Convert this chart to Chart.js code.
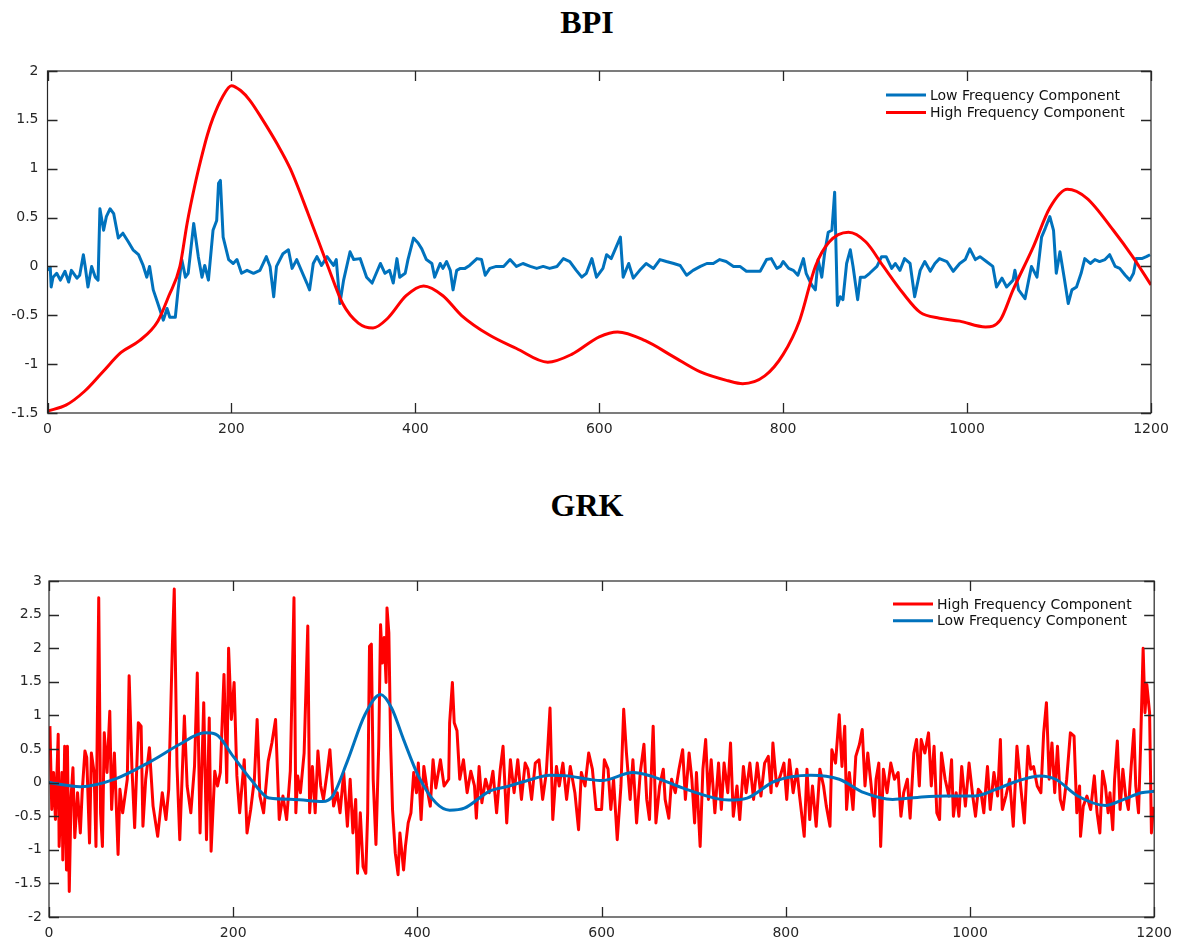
<!DOCTYPE html>
<html>
<head>
<meta charset="utf-8">
<script src="https://cdn.jsdelivr.net/npm/chart.js@4.4.1/dist/chart.umd.min.js"></script>
<style>
  html, body { margin: 0; padding: 0; background: #fff; }
  #wrap { position: relative; width: 1180px; height: 941px; }
  .title {
    position: absolute; left: 0; width: 1174px; text-align: center;
    font-family: "Liberation Serif", "Times New Roman", serif;
    font-weight: bold; font-size: 32px; line-height: 36px; color: #000;
  }
  canvas { position: absolute; left: 0; }
</style>
</head>
<body>
<div id="wrap">
  <div class="title" style="top:4px">BPI</div>
  <canvas id="bpiChart" style="top:0" width="1180" height="460"></canvas>
  <div class="title" style="top:487px">GRK</div>
  <canvas id="grkChart" style="top:460px" width="1180" height="481"></canvas>
</div>
<script>
// ---- BPI: low frequency component (noisy) ----
const bpiLowX = [0,3,4,6,10,14,19,23,26,32,35,39,41,44,48,52,55,57,61,64,68,72,77,82,88,93,99,104,108,111,
  115,120,126,130,133,139,142,146,150,153,159,164,168,171,175,180,184,186,188,191,197,202,206,211,217,224,231,238,242,246,
  249,256,262,266,271,276,282,285,289,293,298,304,311,314,318,322,329,333,340,347,353,362,367,372,
  376,380,383,389,392,398,403,407,412,418,421,427,430,434,438,441,445,449,454,459,467,472,476,481,488,496,503,510,517,525,
  532,539,546,554,561,568,575,581,586,592,597,604,608,613,623,626,632,637,644,651,659,666,673,681,688,695,702,710,717,724,
  731,738,746,753,760,767,775,782,787,793,
  797,800,806,811,816,822,825,831,835,838,842,845,849,853,856,859,862,865,869,873,876,881,884,889,894,902,907,912,918,922,
  927,932,938,943,949,954,960,965,970,978,985,992,998,1003,1009,1014,1021,1028,1032,1038,1043,1050,1052,1056,1063,1067,1070,1076,1081,1085,
  1090,1094,1097,1101,1106,1110,1114,1119,1124,1128,1134,1139,1144,1150,1155,1161,1166,1172,1177,1181,1184,1190,1195,1199];
const bpiLowY = [-0.04,-0.01,-0.21,-0.11,-0.07,-0.14,-0.05,-0.16,-0.04,-0.12,-0.09,0.12,0.0,-0.21,0.0,-0.11,-0.14,0.59,0.37,0.51,
  0.59,0.54,0.29,0.34,0.25,0.17,0.12,0.01,-0.11,0.0,-0.24,-0.38,-0.55,-0.43,-0.52,-0.52,-0.24,0.07,-0.11,-0.07,
  0.44,0.1,-0.11,0.01,-0.14,0.37,0.47,0.85,0.88,0.3,0.07,0.03,0.07,-0.07,-0.04,-0.07,-0.04,0.1,0.0,-0.31,
  0.0,0.13,0.17,-0.02,0.07,-0.04,-0.17,-0.24,0.03,0.1,0.01,0.1,0.01,0.07,-0.38,-0.14,0.15,0.07,0.08,-0.11,
  -0.17,0.03,-0.07,-0.04,
  -0.17,0.08,-0.11,-0.07,0.07,0.29,0.24,0.18,0.07,0.03,-0.11,0.03,-0.02,0.05,-0.04,-0.24,-0.04,-0.02,-0.02,0.01,
  0.08,0.07,-0.09,-0.02,0.0,0.0,0.07,0.0,0.03,0.0,-0.02,0.0,-0.02,0.0,0.08,0.05,-0.04,-0.11,-0.07,0.08,
  -0.11,-0.02,0.12,0.08,0.3,-0.11,0.03,-0.12,-0.04,0.03,-0.02,0.07,0.05,0.03,0.01,-0.09,-0.04,0.0,0.03,0.03,
  0.07,0.05,0.0,0.0,-0.05,-0.05,-0.05,0.07,0.08,-0.02,
  0.0,0.05,-0.02,-0.04,-0.09,0.08,-0.07,-0.19,-0.24,0.07,-0.11,0.13,0.35,0.37,0.76,-0.4,-0.31,-0.34,0.03,0.17,
  0.0,-0.34,-0.11,-0.11,-0.07,0.0,0.1,0.1,-0.02,0.03,-0.04,0.08,0.03,-0.31,-0.04,0.05,-0.05,0.03,0.08,0.05,
  -0.05,0.03,0.07,0.18,0.07,0.1,0.05,0.0,-0.21,-0.12,-0.21,-0.14,-0.04,-0.24,-0.33,-0.14,0.0,-0.11,0.3,0.39,
  0.51,0.37,-0.07,0.15,-0.14,-0.38,-0.24,-0.21,-0.07,0.08,0.03,0.07,0.05,0.07,0.12,0.0,-0.02,-0.09,-0.14,-0.07,
  0.08,0.08,0.1,0.12];

// ---- BPI: high frequency component (smooth) ----
const bpiHighX = [0,20,40,60,80,100,120,132,144,152,160,167,174,180,190,200,210,220,234,250,264,283,305,321,338,354,370,390,409,430,
  450,480,510,544,570,600,620,650,680,710,740,756,780,800,818,835,850,871,890,909,930,949,970,992,1020,1036,1050,1072,1090,1109,
  1130,1159,1180,1200];
const bpiHighY = [-1.48,-1.42,-1.28,-1.08,-0.88,-0.76,-0.56,-0.3,0.0,0.45,0.82,1.1,1.35,1.52,1.73,1.85,1.8,1.7,1.5,1.25,
  1.0,0.55,0.0,-0.38,-0.58,-0.63,-0.53,-0.3,-0.2,-0.3,-0.5,-0.7,-0.84,-0.98,-0.9,-0.72,-0.67,-0.76,-0.92,-1.08,
  -1.17,-1.2,-1.12,-0.9,-0.55,0.0,0.25,0.35,0.25,0.0,-0.27,-0.47,-0.53,-0.56,-0.62,-0.55,-0.24,0.2,0.6,0.79,
  0.7,0.37,0.1,-0.19];

// ---- GRK: high frequency component (noisy) ----
const grkHighX = [1,3,5,7,10,11,14,15,17,19,20,22,24,26,28,31,34,36,39,41,44,46,49,51,54,56,58,60,63,66,
  68,71,75,77,80,85,87,90,93,97,100,102,105,109,113,118,123,127,130,134,136,139,142,147,150,154,158,161,164,168,
  171,174,176,180,183,186,190,193,195,198,201,204,207,212,215,219,223,226,229,233,238,242,246,250,254,258,262,266,268,270,
  273,277,281,283,286,289,292,295,298,302,305,309,313,316,320,324,327,330,333,335,338,341,344,346,348,350,352,355,358,360,
  362,364,366,367,369,371,373,376,379,381,385,387,390,393,396,399,401,404,407,410,414,417,420,425,429,434,435,438,440,443,
  446,450,454,458,462,464,467,470,474,478,482,486,490,493,497,501,505,509,513,517,520,524,528,532,536,540,544,547,551,554,
  558,562,566,571,575,578,582,586,590,594,
  600,603,607,610,613,617,621,624,627,631,634,638,642,646,649,652,656,659,663,667,669,673,676,680,684,688,691,695,698,701,
  703,707,710,713,716,719,723,727,730,733,737,740,743,747,750,754,757,761,765,769,773,777,781,784,786,790,794,798,801,804,
  808,812,815,820,823,826,829,833,837,841,844,848,850,854,858,861,864,866,869,873,876,880,883,886,889,892,896,898,901,903,
  906,910,914,918,922,925,928,932,935,939,942,945,947,951,955,958,961,964,967,969,973,977,980,982,985,988,991,995,999,1003,
  1006,1009,1012,1015,1019,1022,1026,1030,1033,1035,1039,1043,1047,1051,1055,1059,1063,1066,1069,1073,1077,1080,1083,1086,1089,1092,1095,1098,1101,1105,
  1109,1113,1116,1119,1120,1123,1127,1131,1135,1138,1141,1144,1147,1150,1152,1155,1157,1160,1163,1166,1169,1172,1175,1178,1180,1183,1185,1188,1190,1192,
  1195,1197,1199,1200];
const grkHighY = [0.84,-0.4,0.15,-0.55,0.72,-0.95,0.15,-1.15,0.54,-1.3,0.54,-1.62,-0.2,0.22,-0.82,-0.15,-0.75,-0.15,0.47,0.37,
  -0.9,0.44,0.15,-0.95,2.75,-0.45,-0.95,0.74,0.15,1.06,-0.4,0.44,-1.07,-0.1,-0.45,0.05,1.59,0.24,-0.67,0.89,
  0.84,-0.65,0.05,0.52,-0.35,-0.8,-0.15,-0.55,-0.1,2.06,2.88,0.24,-0.85,0.99,-0.05,-0.45,0.24,1.63,-0.75,1.19,
  -0.85,0.96,-1.02,0.17,-0.05,0.15,1.61,0.0,2.0,0.94,1.49,0.1,-0.45,0.34,-0.75,-0.4,0.05,0.94,-0.2,-0.45,
  0.32,0.59,0.94,-0.55,-0.2,-0.55,0.17,2.75,-0.45,0.1,-0.15,0.44,2.33,-0.45,0.24,-0.45,0.47,-0.05,-0.25,0.15,
  0.49,-0.35,-0.15,-0.45,0.15,-0.65,0.05,-0.75,-0.25,-1.35,-0.45,-1.25,-1.35,-0.45,2.03,2.06,0.05,-0.92,0.54,2.35,
  1.78,2.16,1.49,2.6,2.23,0.54,-0.4,-1.05,-1.37,-0.75,-1.3,-0.95,-0.6,-0.45,0.15,-0.15,0.29,-0.55,0.24,-0.05,
  -0.35,0.34,-0.08,0.34,-0.05,0.05,0.89,1.49,0.89,0.77,0.05,0.34,-0.15,0.17,-0.05,-0.53,0.24,-0.3,0.05,-0.15,
  0.17,-0.45,0.2,0.54,-0.6,0.34,-0.15,0.34,-0.25,0.29,0.2,-0.25,0.29,0.34,-0.25,0.15,1.11,-0.55,0.24,-0.05,
  0.29,-0.25,0.24,-0.15,-0.7,0.15,-0.05,0.44,0.2,-0.4,
  -0.4,0.34,0.2,-0.4,0.05,-0.85,-0.05,1.09,0.44,-0.25,0.34,-0.6,0.15,0.57,-0.25,-0.55,0.84,-0.6,-0.05,0.2,
  -0.25,-0.53,0.05,-0.15,0.2,0.49,-0.25,0.44,0.05,-0.6,0.15,-0.95,0.2,0.64,-0.25,0.34,-0.45,0.29,-0.4,0.29,
  -0.15,0.59,-0.5,-0.05,-0.55,0.24,-0.15,0.29,-0.25,0.29,-0.2,0.29,0.39,-0.15,0.59,-0.05,0.1,0.29,-0.25,0.34,
  -0.15,0.2,-0.2,-0.8,0.2,-0.55,-0.05,-0.65,0.2,-0.05,-0.35,-0.65,0.49,0.29,1.01,0.24,0.84,-0.4,0.15,-0.4,
  0.39,0.57,0.79,-0.05,0.44,0.05,-0.5,0.05,0.29,-0.95,0.2,-0.15,0.29,0.05,0.15,-0.5,-0.15,0.05,-0.53,0.44,
  0.64,-0.05,0.64,0.44,0.74,-0.05,0.54,-0.45,-0.55,0.44,0.05,-0.2,0.34,-0.5,-0.15,-0.5,0.24,-0.35,0.29,-0.2,
  -0.5,-0.1,-0.15,-0.45,0.24,-0.4,0.15,-0.2,0.64,-0.4,-0.2,0.05,-0.65,0.54,-0.05,-0.6,0.54,0.2,0.24,-0.05,
  -0.15,0.74,1.19,0.05,0.59,-0.15,0.54,-0.25,-0.4,0.05,0.74,0.69,-0.45,-0.05,-0.8,-0.35,-0.2,-0.4,0.1,-0.45,
  -0.75,0.17,-0.05,-0.45,-0.15,-0.7,0.05,0.62,-0.4,0.2,-0.2,-0.4,0.24,0.79,-0.05,-0.45,0.44,2.0,1.04,1.46,
  1.04,-0.75,-0.38,-0.45];

// ---- GRK: low frequency component (smooth) ----
const grkLowX = [0,34,73,111,142,169,181,200,219,239,266,297,308,324,343,360,372,385,401,420,
  435,451,478,497,517,544,563,586,600,634,653,692,738,758,788,827,858,885,916,943,
  974,1005,1028,1051,1076,1093,1117,1147,1167,1186,1200];
const grkLowY = [0.0,-0.06,0.06,0.32,0.57,0.74,0.72,0.39,0.05,-0.23,-0.25,-0.28,-0.2,0.32,1.01,1.31,1.11,0.64,0.1,-0.3,
  -0.41,-0.38,-0.13,-0.06,0.02,0.11,0.1,0.05,0.03,0.15,0.1,-0.1,-0.26,-0.23,0.02,0.11,0.05,-0.15,-0.25,-0.22,
  -0.2,-0.2,-0.1,0.02,0.1,0.05,-0.2,-0.34,-0.25,-0.15,-0.13];

const xTicks = [0, 200, 400, 600, 800, 1000, 1200];
const bpiYTicks = [-1.5, -1, -0.5, 0, 0.5, 1, 1.5, 2];
const grkYTicks = [-2, -1.5, -1, -0.5, 0, 0.5, 1, 1.5, 2, 2.5, 3];

const BLUE = '#0072BD';
const RED = '#FF0000';
const AXIS = '#262626';
const TICK = 10;

Chart.defaults.font.family = '"DejaVu Sans", "Liberation Sans", sans-serif';

function pts(xs, ys) {
  return xs.map((x, i) => ({ x: x, y: ys[i] }));
}

// box around the plot with inward ticks on all four sides
const axesBox = {
  id: 'axesBox',
  afterDraw(chart, args, opts) {
    const { ctx, chartArea: a } = chart;
    const sx = chart.scales.x;
    const sy = chart.scales.y;
    ctx.save();
    ctx.strokeStyle = AXIS;
    ctx.lineWidth = 1.2;
    ctx.strokeRect(a.left, a.top, a.right - a.left, a.bottom - a.top);

    ctx.lineWidth = 1.3;
    ctx.beginPath();
    for (const v of xTicks) {
      const px = Math.round(sx.getPixelForValue(v)) + 0.5;
      ctx.moveTo(px, a.bottom);
      ctx.lineTo(px, a.bottom - TICK);
      ctx.moveTo(px, a.top);
      ctx.lineTo(px, a.top + TICK);
    }
    for (const v of opts.yTicks) {
      const py = Math.round(sy.getPixelForValue(v)) + 0.5;
      ctx.moveTo(a.left, py);
      ctx.lineTo(a.left + TICK, py);
      ctx.moveTo(a.right, py);
      ctx.lineTo(a.right - TICK, py);
    }
    ctx.stroke();
    ctx.restore();
  },
};

// legend drawn inside the plot, top right
const insideLegend = {
  id: 'insideLegend',
  afterDraw(chart, args, opts) {
    const ctx = chart.ctx;
    ctx.save();
    ctx.font = '14px "DejaVu Sans", sans-serif';
    ctx.textBaseline = 'middle';
    opts.items.forEach((idx, i) => {
      const ds = chart.data.datasets[idx];
      const yy = opts.y + i * opts.rowH;
      ctx.strokeStyle = ds.borderColor;
      ctx.lineWidth = 3;
      ctx.beginPath();
      ctx.moveTo(opts.x, yy);
      ctx.lineTo(opts.x + 40, yy);
      ctx.stroke();
      ctx.fillStyle = '#111';
      ctx.fillText(ds.label, opts.x + 44, yy + 1);
    });
    ctx.restore();
  },
};

function makeOptions(cfg) {
  return {
    responsive: false,
    animation: false,
    events: [],
    layout: { padding: { top: cfg.padTop, right: cfg.padRight, bottom: 0, left: 0 } },
    elements: { point: { radius: 0 }, line: { borderWidth: 3, borderJoinStyle: 'round' } },
    plugins: {
      legend: { display: false },
      tooltip: { enabled: false },
      insideLegend: cfg.legend,
      axesBox: { yTicks: cfg.yTicks },
    },
    scales: {
      x: {
        type: 'linear', min: 0, max: 1200,
        afterBuildTicks: (s) => { s.ticks = xTicks.map((v) => ({ value: v })); },
        ticks: { color: AXIS, font: { size: 14 }, padding: 8, maxRotation: 0, callback: (v) => String(v) },
        grid: { display: false, drawTicks: false },
        border: { display: false },
        afterFit: (s) => { s.height = cfg.xHeight; },
      },
      y: {
        min: cfg.yMin, max: cfg.yMax,
        afterBuildTicks: (s) => { s.ticks = cfg.yTicks.map((v) => ({ value: v })); },
        ticks: { color: AXIS, font: { size: 14 }, padding: cfg.yPad, callback: (v) => String(v) },
        grid: { display: false, drawTicks: false },
        border: { display: false },
        afterFit: (s) => { s.width = cfg.yWidth; },
      },
    },
  };
}

new Chart(document.getElementById('bpiChart'), {
  type: 'line',
  data: {
    datasets: [
      { label: 'Low Frequency Component', data: pts(bpiLowX, bpiLowY), borderColor: BLUE, order: 1, tension: 0 },
      { label: 'High Frequency Component', data: pts(bpiHighX, bpiHighY), borderColor: RED, order: 0,
        cubicInterpolationMode: 'monotone' },
    ],
  },
  options: makeOptions({ padTop: 71, padRight: 29, xHeight: 47, yWidth: 47.5, yPad: 9, yMin: -1.5, yMax: 2,
    yTicks: bpiYTicks, legend: { x: 886, y: 95, rowH: 17.5, items: [0, 1] } }),
  plugins: [axesBox, insideLegend],
});

new Chart(document.getElementById('grkChart'), {
  type: 'line',
  data: {
    datasets: [
      { label: 'High Frequency Component', data: pts(grkHighX, grkHighY), borderColor: RED, order: 1, tension: 0 },
      { label: 'Low Frequency Component', data: pts(grkLowX, grkLowY), borderColor: BLUE, order: 0,
        cubicInterpolationMode: 'monotone' },
    ],
  },
  options: makeOptions({ padTop: 121, padRight: 21, xHeight: 24, yWidth: 49, yPad: 7, yMin: -2, yMax: 3,
    yTicks: grkYTicks, legend: { x: 893, y: 144, rowH: 16.7, items: [0, 1] } }),
  plugins: [axesBox, insideLegend],
});
</script>
</body>
</html>
